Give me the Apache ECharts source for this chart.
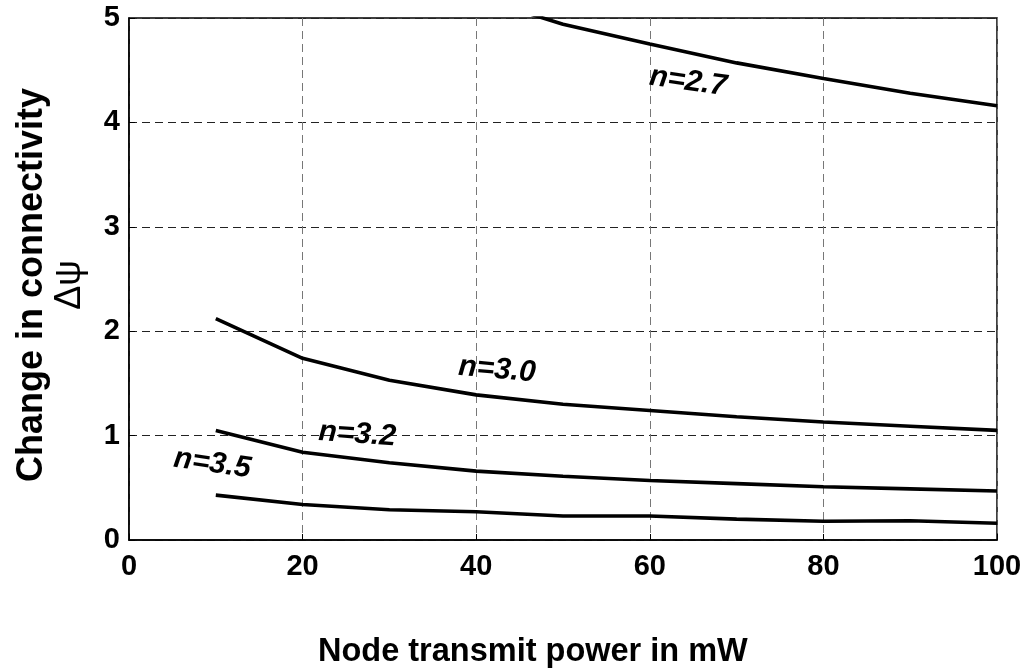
<!DOCTYPE html>
<html>
<head>
<meta charset="utf-8">
<script src="https://cdn.jsdelivr.net/npm/echarts@6/dist/echarts.min.js"></script>
<style>
html,body{margin:0;padding:0;background:#fff;}
#c{width:1028px;height:669px;}
</style>
</head>
<body>
<div id="c"></div>
<script>
const powers = [10, 20, 30, 40, 50, 60, 70, 80, 90, 100];
const n27 = [8.0, 6.3, 5.6, 5.2, 4.94, 4.75, 4.57, 4.42, 4.28, 4.16];
const n30 = [2.12, 1.74, 1.53, 1.39, 1.30, 1.24, 1.18, 1.13, 1.09, 1.05];
const n32 = [1.05, 0.84, 0.74, 0.66, 0.61, 0.57, 0.54, 0.51, 0.49, 0.47];
const n35 = [0.43, 0.34, 0.29, 0.27, 0.23, 0.23, 0.20, 0.18, 0.185, 0.16];
const seriesNames = ['n=2.7', 'n=3.0', 'n=3.2', 'n=3.5'];
const labelPos = [[64.4, 4.39], [42.4, 1.63], [26.3, 1.01], [9.6, 0.73]];
const labelRot = [-8, -5, -4, -8];
const xTitle = 'Node transmit power in mW';
const yTitle = 'Change in connectivity';
const ySub = 'Δψ';

const FONT = '"Liberation Sans", Arial, sans-serif';
const chart = echarts.init(document.getElementById('c'), null, {renderer: 'canvas'});
const allData = [n27, n30, n32, n35];

const series = allData.map((vals, i) => ({
  type: 'line',
  name: seriesNames[i],
  data: powers.map((p, k) => [p, vals[k]]),
  symbol: 'none',
  clip: true,
  lineStyle: {color: '#000', width: 3.6},
  markPoint: {
    symbol: 'circle',
    symbolSize: 0,
    data: [{
      coord: labelPos[i],
      label: {
        show: true,
        position: 'inside',
        formatter: seriesNames[i],
        rotate: labelRot[i],
        color: '#000',
        fontFamily: FONT,
        fontWeight: 'bold',
        fontStyle: 'italic',
        fontSize: 30
      }
    }]
  }
}));

chart.setOption({
  animation: false,
  backgroundColor: '#fff',
  grid: {left: 129, right: 31, top: 18, bottom: 129, show: true, borderColor: '#000', borderWidth: 1.5, backgroundColor: 'transparent'},
  xAxis: {
    type: 'value', min: 0, max: 100, interval: 20,
    axisLine: {show: true, lineStyle: {color: '#000', width: 1.5}},
    axisTick: {show: true, inside: true, length: 6, lineStyle: {color: '#000'}},
    axisLabel: {color: '#000', fontFamily: FONT, fontWeight: 'bold', fontSize: 29, margin: 12},
    splitLine: {show: true, lineStyle: {color: '#777', type: [8, 5], width: 1}}
  },
  yAxis: {
    type: 'value', min: 0, max: 5, interval: 1,
    axisLine: {show: true, lineStyle: {color: '#000', width: 1.5}},
    axisTick: {show: true, inside: true, length: 6, lineStyle: {color: '#000'}},
    axisLabel: {color: '#000', fontFamily: FONT, fontWeight: 'bold', fontSize: 29, margin: 9},
    splitLine: {show: true, lineStyle: {color: '#222', type: [8, 5], width: 1}},
    name: '{a|' + yTitle + '}\n{b|' + ySub + '}',
    nameLocation: 'middle',
    nameRotate: 90,
    nameGap: 41,
    nameTextStyle: {
      align: 'center',
      padding: [0, 12, 0, 0],
      rich: {
        a: {fontFamily: FONT, fontWeight: 'bold', fontSize: 36, color: '#000', lineHeight: 40},
        b: {fontFamily: FONT, fontWeight: 'normal', fontSize: 36, color: '#000', lineHeight: 36}
      }
    }
  },
  graphic: [{
    type: 'text',
    left: 318,
    top: 636,
    style: {text: xTitle, font: 'bold 32.5px ' + FONT, fill: '#000'}
  }],
  series: series
});
</script>
</body>
</html>
